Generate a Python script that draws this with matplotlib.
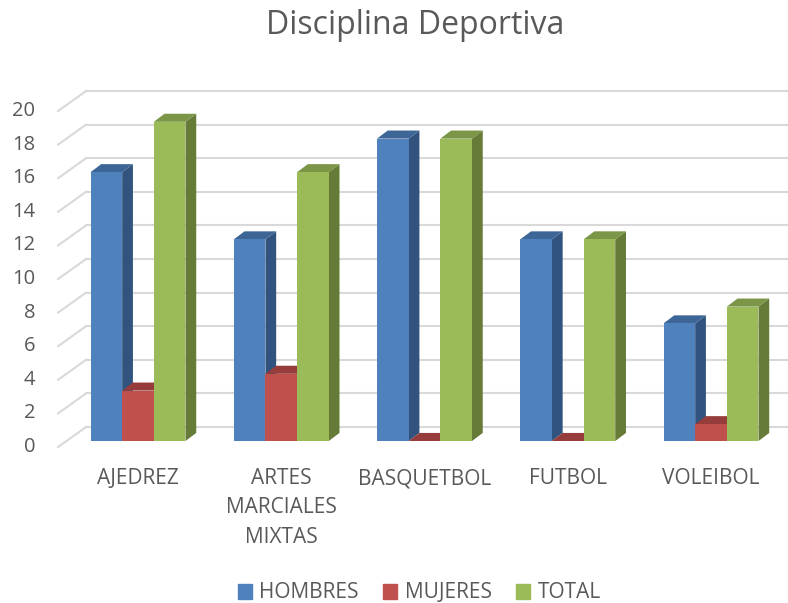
#!/usr/bin/env python3
import matplotlib
matplotlib.use('Agg')
from matplotlib.pyplot import figure
from matplotlib.patches import Polygon, Patch

categorias = ['AJEDREZ', 'ARTES\nMARCIALES\nMIXTAS', 'BASQUETBOL', 'FUTBOL', 'VOLEIBOL']
hombres = [16, 12, 18, 12, 7]
mujeres = [3, 4, 0, 0, 1]
total = [19, 16, 18, 12, 8]
series = ['HOMBRES', 'MUJERES', 'TOTAL']
yticks = list(range(0, 21, 2))

# front, top, side colours (Excel office 2007 palette)
colores = [('#4F81BD', '#3D6697', '#31537D'),
           ('#C0504D', '#963C3A', '#80322F'),
           ('#9BBB59', '#7A9646', '#657B37')]
txtcol = '#595959'
gridcol = '#D9D9D9'
font = 'Open Sans'

# pseudo 3D geometry, in data units (x: category, y: value)
ancho = 0.221       # bar width
bdx, bdy = 0.075, 0.48    # bar depth offset
wx0, wx1 = -0.558, -0.363  # side wall front / back x
wfront, wback = -0.357, 0.83  # side wall y offsets

fg = figure(figsize=(7.88, 6.03), dpi=100)
ax = fg.add_axes([0, 0, 1, 1])
ax.set_xlim(-138 / 143.25, 650 / 143.25)
ax.set_ylim((441 - 603) / 16.8, 441 / 16.8)
ax.axis('off')

#%% walls
for v in yticks:
    ax.plot([wx0, wx1], [v + wfront, v + wback], color=gridcol, lw=1.5, zorder=1)
    ax.plot([wx1, 650 / 143.25], [v + wback, v + wback], color=gridcol, lw=1.5, zorder=1)
    ax.text(wx0 - 0.16, v + wfront, str(v), ha='right', va='center',
            fontsize=14.5, color=txtcol, family=font)

#%% bars
datos = [hombres, mujeres, total]
z = 2
for i in range(len(categorias)):
    for j, vals in enumerate(datos):
        x0 = i + (j - 1.5) * ancho
        x1 = x0 + ancho
        h = vals[i]
        cf, ct, cs = colores[j]
        side = [(x1, 0), (x1 + bdx, bdy), (x1 + bdx, h + bdy), (x1, h)]
        top = [(x0, h), (x0 + bdx, h + bdy), (x1 + bdx, h + bdy), (x1, h)]
        ax.add_patch(Polygon(side, closed=True, fc=cs, ec='none', zorder=z))
        ax.add_patch(Polygon(top, closed=True, fc=ct, ec='none', zorder=z))
        if h > 0:
            ax.bar(x0, h, width=ancho, align='edge', color=cf, zorder=z + 0.5)
        z += 1

for i, cat in enumerate(categorias):
    ax.text(i, (441 - 468) / 16.8, cat, ha='center', va='top', fontsize=15,
            color=txtcol, family=font, linespacing=1.52)

fg.text(0.527, 1 - 26 / 603, 'Disciplina Deportiva', ha='center', va='center',
        fontsize=23, color=txtcol, family=font)

handles = [Patch(color=c[0]) for c in colores]
leg = fg.legend(handles, series, loc='center', bbox_to_anchor=(0.532, 1 - 593 / 603),
                ncol=3, frameon=False, handlelength=0.7, handleheight=0.7,
                handletextpad=0.35, columnspacing=1.15,
                prop={'family': font, 'size': 15})
for t in leg.get_texts():
    t.set_color(txtcol)

fg.savefig('out.png', dpi=100)
